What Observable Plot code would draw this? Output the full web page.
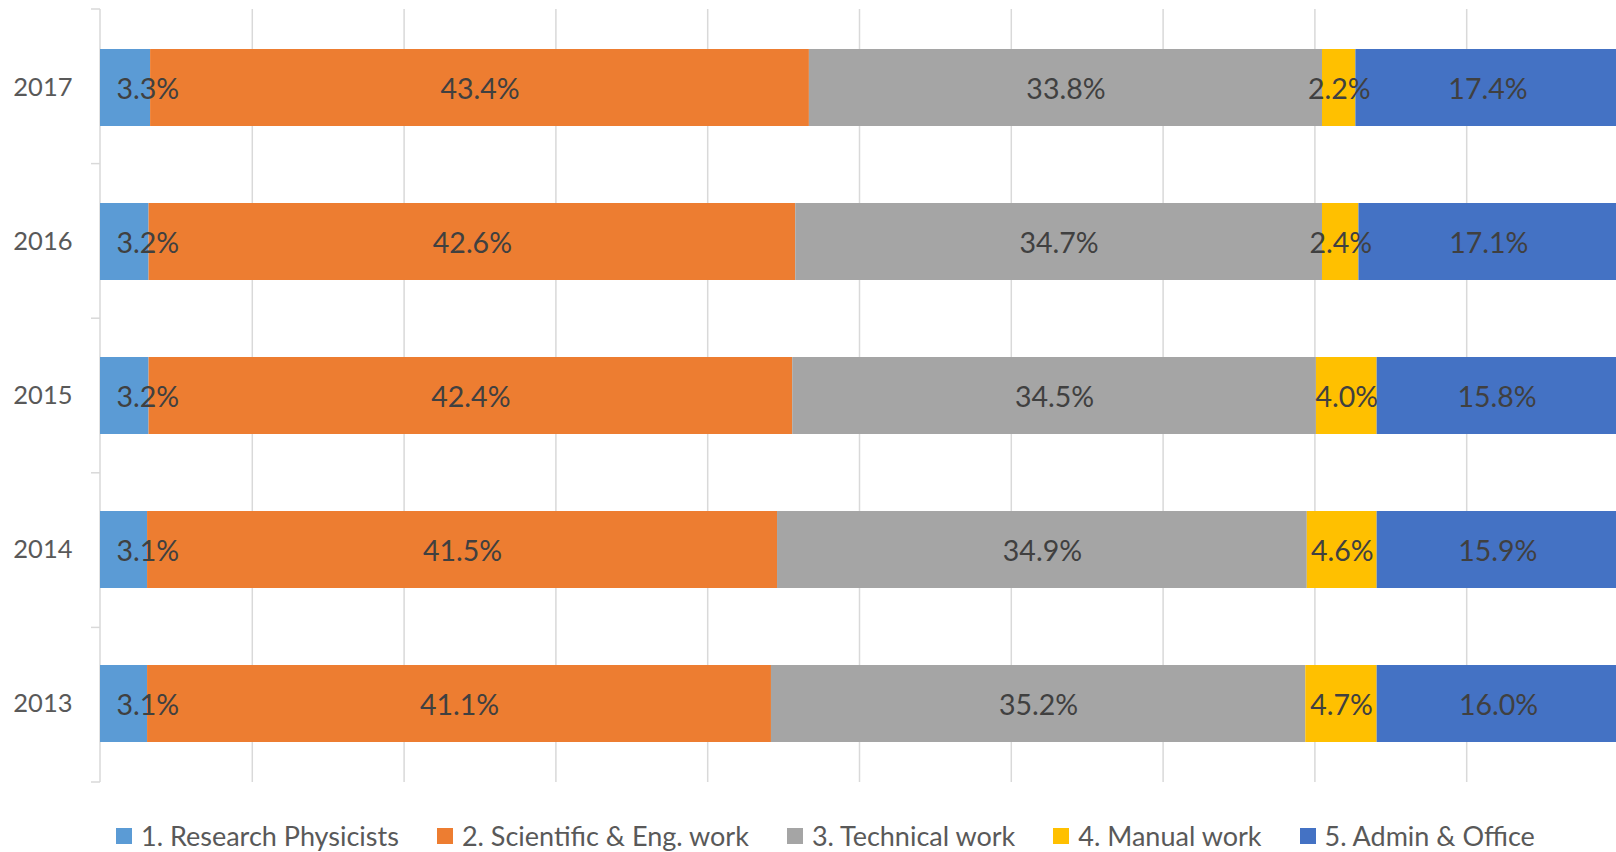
<!DOCTYPE html>
<html><head><meta charset="utf-8">
<script src="https://cdn.jsdelivr.net/npm/d3@7"></script>
<script src="https://cdn.jsdelivr.net/npm/@observablehq/plot@0.6"></script>
<style>
body{margin:0;background:#fff;font-family:Lato,"Open Sans",sans-serif;}
#chart{position:relative;width:1616px;height:852px;overflow:hidden;background:#fff}
#legend{position:absolute;left:116px;top:821px;height:30px;line-height:30px;display:flex;align-items:center;gap:38px;font-size:27px;color:#595959;white-space:nowrap}
#legend .item{display:flex;align-items:center}
#legend .sw{width:16px;height:16px;margin-right:9px;display:inline-block}
</style></head><body><div id="chart"></div><script>
const series = ["1. Research Physicists", "2. Scientific & Eng. work", "3. Technical work", "4. Manual work", "5. Admin & Office"];
const colors = ["#5B9BD5", "#ED7D31", "#A5A5A5", "#FFC000", "#4472C4"];
const years = ["2017", "2016", "2015", "2014", "2013"];
const physicists = [3.3, 3.2, 3.2, 3.1, 3.1];
const scientific = [43.4, 42.6, 42.4, 41.5, 41.1];
const technical = [33.8, 34.7, 34.5, 34.9, 35.2];
const manual = [2.2, 2.4, 4.0, 4.6, 4.7];
const admin = [17.4, 17.1, 15.8, 15.9, 16.0];
const gridTicks = [10, 20, 30, 40, 50, 60, 70, 80, 90, 100];

const seriesValues = [physicists, scientific, technical, manual, admin];
const data = [];
years.forEach((yr, i) => {
  series.forEach((s, j) => data.push({year: yr, series: s, value: seriesValues[j][i]}));
});
const fmt = d => d.value.toFixed(1) + "%";

const axisColor = "#D9D9D9";
const boundaryTicks = (index, scales, values, dimensions) => {
  const {marginTop, marginBottom, marginLeft, height} = dimensions;
  const step = (height - marginTop - marginBottom) / years.length;
  const g = d3.create("svg:g").attr("stroke", axisColor).attr("stroke-width", 1.5);
  for (let i = 0; i <= years.length; i++) {
    const yy = marginTop + i * step;
    g.append("line").attr("x1", marginLeft - 9).attr("x2", marginLeft).attr("y1", yy).attr("y2", yy);
  }
  g.append("line").attr("x1", marginLeft).attr("x2", marginLeft).attr("y1", marginTop).attr("y2", height - marginBottom);
  return g.node();
};

const chart = Plot.plot({
  width: 1616,
  height: 800,
  marginLeft: 100,
  marginRight: 0,
  marginTop: 9,
  marginBottom: 18,
  style: {fontFamily: "Lato, 'Open Sans', sans-serif", background: "#fff", overflow: "visible"},
  x: {domain: [0, 100], range: [100, 1618], axis: null},
  y: {domain: years, paddingInner: 0.5, paddingOuter: 0.25, label: null, tickSize: 0, tickPadding: 28, fontSize: 25.5},
  color: {domain: series, range: colors},
  marks: [
    Plot.ruleX(gridTicks, {stroke: axisColor, strokeWidth: 1.5}),
    boundaryTicks,
    Plot.barX(data, Plot.stackX({x: "value", y: "year", fill: "series"})),
    Plot.text(data, Plot.stackX({x: "value", y: "year", text: d => d.series === series[0] ? "" : fmt(d), fill: "#404040", fontSize: 28.5, dy: 2})),
    Plot.text(data.filter(d => d.series === series[0]), {y: "year", text: fmt, frameAnchor: "left", textAnchor: "start", dx: 16, dy: 2, fill: "#404040", fontSize: 28.5})
  ]
});
d3.select(chart).selectAll("g[aria-label='y-axis tick label'] text, g[aria-label='y-axis'] text").attr("fill", "#595959").style("font-size", "25.5px");
d3.select(chart).selectAll("g[aria-label='y-axis tick label'], g[aria-label='y-axis']").attr("fill", "#595959").attr("font-size", 25.5);
document.getElementById("chart").appendChild(chart);

const legend = d3.select("#chart").append("div").attr("id", "legend");
const items = legend.selectAll(".item").data(series).join("div").attr("class", "item");
items.append("span").attr("class", "sw").style("background", (d, i) => colors[i]);
items.append("span").text(d => d);
</script></body></html>
